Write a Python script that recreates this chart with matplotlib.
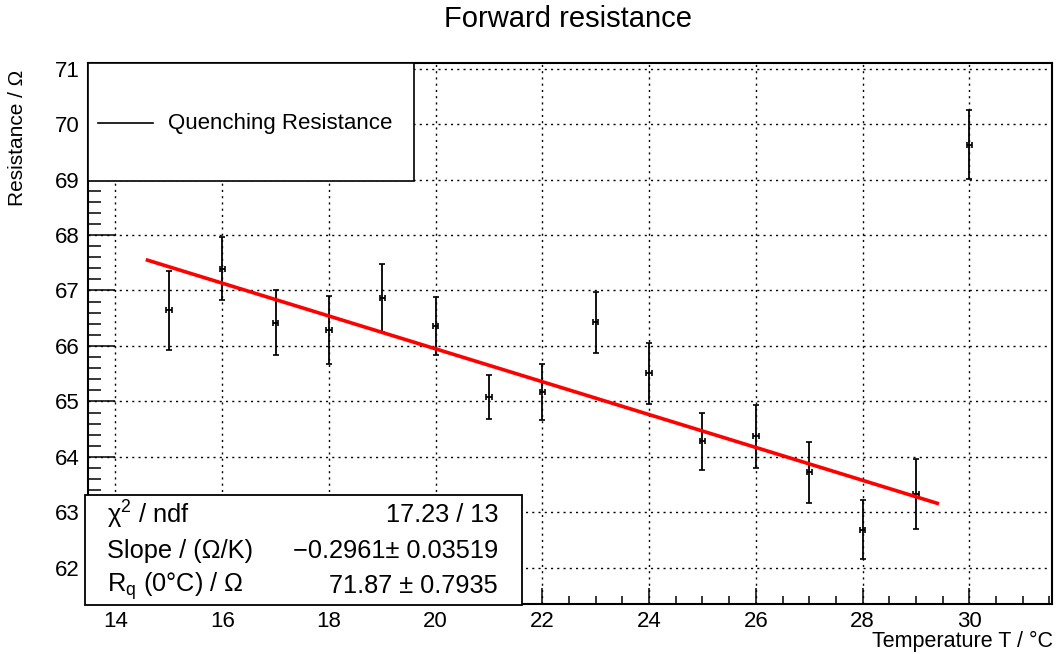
import numpy as np
import matplotlib
matplotlib.use("Agg")
import matplotlib.pyplot as plt
from matplotlib.patches import Rectangle
from matplotlib.lines import Line2D
from matplotlib.ticker import MultipleLocator

plt.rcParams['font.family'] = ['Liberation Sans', 'DejaVu Sans']
plt.rcParams['mathtext.fontset'] = 'custom'
plt.rcParams['mathtext.rm'] = 'Liberation Sans'
plt.rcParams['mathtext.it'] = 'Liberation Sans:italic'

# ---- data ----
temperature = [15, 16, 17, 18, 19, 20, 21, 22, 23, 24, 25, 26, 27, 28, 29, 30]
resistance = [66.64, 67.39, 66.42, 66.29, 66.86, 66.36, 65.08, 65.17,
              66.43, 65.51, 64.28, 64.37, 63.72, 62.69, 63.34, 69.63]
res_err = [0.72, 0.57, 0.58, 0.61, 0.61, 0.53, 0.40, 0.50,
           0.55, 0.55, 0.52, 0.56, 0.55, 0.53, 0.63, 0.62]
temp_err = [0.05] * 16

fit_slope = -0.2961
fit_intercept = 71.87
fit_range = (14.6, 29.4)

title = "Forward resistance"
xlabel = "Temperature T / °C"
ylabel = "Resistance / Ω"
legend_label = "Quenching Resistance"
stats_names = ["χ$^{2}$ / ndf", "Slope / (Ω/K)", "R$_{\\mathrm{q}}$ (0°C) / Ω"]
stats_values = ["17.23 / 13", "−0.2961± 0.03519", "71.87 ± 0.7935"]

W, H = 1061, 654
fig = plt.figure(figsize=(W / 100, H / 100), dpi=100)

def fx(px):
    return px / W

def fy(py):
    return 1 - py / H

ax = fig.add_axes([fx(88), fy(604), fx(1052) - fx(88), fy(63) - fy(604)])
ax.set_xlim(13.485, 31.55)
ax.set_ylim(61.35, 71.1)

ax.xaxis.set_major_locator(MultipleLocator(2))
ax.xaxis.set_minor_locator(MultipleLocator(0.5))
ax.yaxis.set_major_locator(MultipleLocator(1))
ax.yaxis.set_minor_locator(MultipleLocator(0.2))

ax.tick_params(axis='x', which='major', direction='in', length=11.5, width=1.1,
               labelsize=16, pad=5, top=False)
ax.tick_params(axis='x', which='minor', direction='in', length=5.8, width=1.1, top=False)
ax.tick_params(axis='y', which='major', direction='in', length=19.4, width=1.1,
               labelsize=16, pad=6, right=False)
ax.tick_params(axis='y', which='minor', direction='in', length=9.7, width=1.1, right=False)

for s in ax.spines.values():
    s.set_linewidth(1.5)

ax.grid(True, which='major', color='black', linestyle=(0, (1.5, 3.0)), linewidth=1.0)
ax.set_axisbelow(True)

ax.errorbar(temperature, resistance, yerr=res_err, xerr=temp_err, fmt='none',
            ecolor='black', elinewidth=1.3, capsize=2.2, capthick=1.2, zorder=3)

xf = np.linspace(fit_range[0], fit_range[1], 50)
ax.plot(xf, fit_intercept + fit_slope * xf, color='#ff0000', linewidth=2.6, zorder=4)

# title and axis titles
fig.text(fx(568), fy(19), title, ha='center', va='center', fontsize=21)
fig.text(fx(1053), fy(641), xlabel, ha='right', va='center', fontsize=15.5)
fig.text(fx(18), fy(70), ylabel, ha='center', va='top', rotation=90, fontsize=15)

# legend box
fig.patches.append(Rectangle((fx(88), fy(181)), fx(414) - fx(88), fy(63) - fy(181),
                             transform=fig.transFigure, facecolor='white',
                             edgecolor='black', linewidth=1.2, zorder=10))
fig.lines.append(Line2D([fx(98), fx(153)], [fy(123), fy(123)], transform=fig.transFigure,
                        color='black', linewidth=1.2, zorder=11))
fig.text(fx(168), fy(123), legend_label, ha='left', va='center', fontsize=16, zorder=11)

# stats box
fig.patches.append(Rectangle((fx(85), fy(605)), fx(522) - fx(85), fy(495) - fy(605),
                             transform=fig.transFigure, facecolor='white',
                             edgecolor='black', linewidth=1.3, zorder=10))
rows_y = [515, 551, 586]
for name, val, yy in zip(stats_names, stats_values, rows_y):
    fig.text(fx(107), fy(yy), name, ha='left', va='center', fontsize=18.3, zorder=11)
    fig.text(fx(498), fy(yy), val, ha='right', va='center', fontsize=18.3, zorder=11)

fig.savefig("out.png", dpi=100)
